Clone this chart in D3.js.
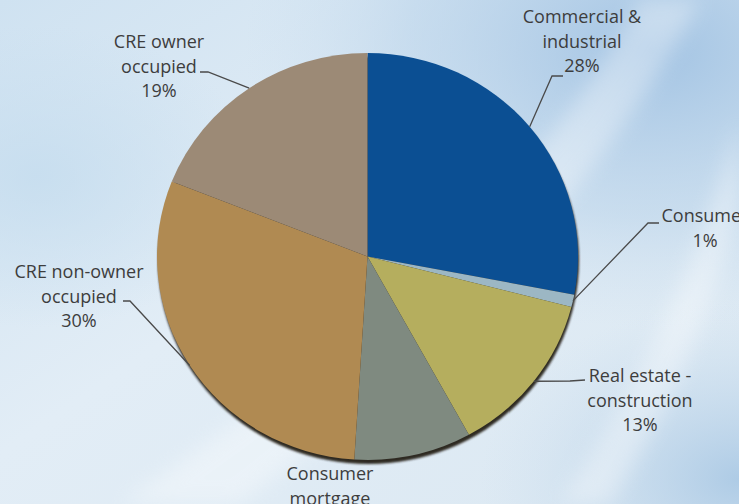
<!DOCTYPE html>
<html>
<head>
<meta charset="utf-8">
<script src="https://cdn.jsdelivr.net/npm/d3@7/dist/d3.min.js"></script>
<style>
  html, body { margin: 0; padding: 0; background: #ffffff; }
  svg { display: block; }
  text { font-family: "Open Sans", "DejaVu Sans", sans-serif; }
</style>
</head>
<body>
<svg id="chart" width="753" height="504"></svg>
<script>
// Loan portfolio mix, clockwise from 12 o'clock
const categories = [
  "Commercial & industrial",
  "Consumer",
  "Real estate - construction",
  "Consumer mortgage",
  "CRE non-owner occupied",
  "CRE owner occupied"
];
const shares = [28, 1, 13, 9, 30, 19];
const labelLines = [
  ["Commercial &", "industrial", "28%"],
  ["Consumer", "1%"],
  ["Real estate -", "construction", "13%"],
  ["Consumer", "mortgage", "9%"],
  ["CRE non-owner", "occupied", "30%"],
  ["CRE owner", "occupied", "19%"]
];
const sliceColors = ["#0b4f93", "#9cb7c4", "#b5ae5e", "#7f8a80", "#b08a52", "#9c8a76"];

// Label placement: text centre x, first baseline y, and the short elbow of the leader
const labelLayout = [
  { x: 582, y: 23, elbow: [[563, 76], [552, 76]] },
  { x: 705, y: 222, elbow: [[659, 223], [648, 223]] },
  { x: 640, y: 382, elbow: [[585, 380], [570, 381]] },
  { x: 330, y: 480, elbow: null },
  { x: 79,  y: 278, elbow: [[123, 301], [130, 301]] },
  { x: 159, y: 48,  elbow: [[200, 72], [208, 72]] }
];

const W = 753, H = 504, plotW = 739;
const cx = 367.5, cy = 256.5, rx = 210.5, ry = 203.5;
const lineGap = 24.7;

const svg = d3.select("#chart");
const defs = svg.append("defs");

// ---- background ----
const bg = defs.append("linearGradient").attr("id", "bgLin")
  .attr("x1", "0").attr("y1", "0").attr("x2", "1").attr("y2", "1");
bg.append("stop").attr("offset", "0").attr("stop-color", "#cfe2f1");
bg.append("stop").attr("offset", "0.45").attr("stop-color", "#e2edf6");
bg.append("stop").attr("offset", "1").attr("stop-color", "#dbe8f2");

const glow = defs.append("radialGradient").attr("id", "bgBlue")
  .attr("cx", "0.88").attr("cy", "0.1").attr("r", "0.55");
glow.append("stop").attr("offset", "0").attr("stop-color", "#9fc1e2").attr("stop-opacity", 0.95);
glow.append("stop").attr("offset", "0.6").attr("stop-color", "#b3cfe8").attr("stop-opacity", 0.5);
glow.append("stop").attr("offset", "1").attr("stop-color", "#c8dcee").attr("stop-opacity", 0);

const glow2 = defs.append("radialGradient").attr("id", "bgBlue2")
  .attr("cx", "1").attr("cy", "0.95").attr("r", "0.35");
glow2.append("stop").attr("offset", "0").attr("stop-color", "#a9c8e4").attr("stop-opacity", 0.9);
glow2.append("stop").attr("offset", "1").attr("stop-color", "#c8dcee").attr("stop-opacity", 0);

const glow3 = defs.append("radialGradient").attr("id", "bgLeft")
  .attr("cx", "0.05").attr("cy", "0.35").attr("r", "0.3");
glow3.append("stop").attr("offset", "0").attr("stop-color", "#c4dcee").attr("stop-opacity", 0.8);
glow3.append("stop").attr("offset", "1").attr("stop-color", "#c4dcee").attr("stop-opacity", 0);

const bgLayer = svg.append("g");
bgLayer.append("rect").attr("width", plotW).attr("height", H).attr("fill", "url(#bgLin)");
bgLayer.append("rect").attr("width", plotW).attr("height", H).attr("fill", "url(#bgBlue)");
bgLayer.append("rect").attr("width", plotW).attr("height", H).attr("fill", "url(#bgBlue2)");
bgLayer.append("rect").attr("width", plotW).attr("height", H).attr("fill", "url(#bgLeft)");

// soft light swooshes
defs.append("filter").attr("id", "soft").append("feGaussianBlur").attr("stdDeviation", 10);
bgLayer.append("path")
  .attr("d", "M640,0 C560,150 420,300 120,504 L240,504 C470,330 610,170 700,0 Z")
  .attr("fill", "#ffffff").attr("opacity", 0.35).attr("filter", "url(#soft)");
bgLayer.append("path")
  .attr("d", "M739,120 C700,260 640,380 560,504 L610,504 C680,390 720,290 739,200 Z")
  .attr("fill", "#ffffff").attr("opacity", 0.35).attr("filter", "url(#soft)");

// ---- pie ----
const pie = d3.pie().sort(null).value(d => d.value);
const arcs = pie(shares.map((v, i) => ({ value: v, name: categories[i], i })));
const arc = d3.arc().innerRadius(0).outerRadius(ry);
const sx = rx / ry;

defs.append("filter").attr("id", "shadowBlur")
  .attr("x", "-10%").attr("y", "-10%").attr("width", "120%").attr("height", "120%")
  .append("feGaussianBlur").attr("stdDeviation", 1.2);

const pieG = svg.append("g").attr("transform", `translate(${cx},${cy})`);
pieG.append("ellipse")
  .attr("cx", 1).attr("cy", 4).attr("rx", rx).attr("ry", ry)
  .attr("fill", "#2f2a22").attr("filter", "url(#shadowBlur)");

pieG.append("g").attr("transform", `scale(${sx},1)`)
  .selectAll("path").data(arcs).join("path")
  .attr("d", arc)
  .attr("fill", d => sliceColors[d.data.i]);

// point on the slice rim at its middle angle
function rimPoint(d) {
  const a = (d.startAngle + d.endAngle) / 2;
  return [cx + rx * Math.sin(a), cy - ry * Math.cos(a)];
}

// ---- leaders ----
const leaders = svg.append("g").attr("fill", "none").attr("stroke", "#4a4a4a").attr("stroke-width", 1.3);
arcs.forEach((d, i) => {
  const L = labelLayout[i];
  if (!L.elbow) return;
  const pts = [...L.elbow, rimPoint(d)];
  leaders.append("path").attr("d", d3.line()(pts));
});

// ---- labels ----
const labels = svg.append("g").attr("fill", "#3d3d3d").attr("font-size", 18).attr("text-anchor", "middle");
arcs.forEach((d, i) => {
  const L = labelLayout[i];
  const t = labels.append("text").attr("x", L.x).attr("y", L.y);
  labelLines[i].forEach((s, k) => {
    t.append("tspan").attr("x", L.x).attr("y", L.y + k * lineGap).text(s);
  });
});

// white margin on the right edge of the slide area
svg.append("rect").attr("x", plotW).attr("width", W - plotW).attr("height", H).attr("fill", "#ffffff");
</script>
</body>
</html>
